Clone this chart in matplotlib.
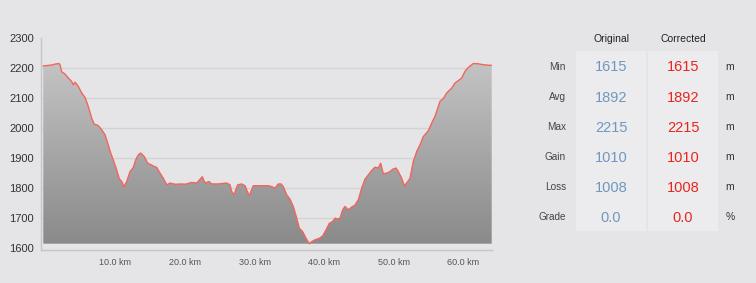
import matplotlib
matplotlib.use("Agg")
import matplotlib.pyplot as plt
import numpy as np
from matplotlib.patches import Rectangle
from matplotlib.colors import LinearSegmentedColormap
import matplotlib.transforms as mtransforms

plt.rcParams['font.family'] = ['Liberation Sans', 'DejaVu Sans']

# ---- data ----
distance_km = [0.00, 1.21, 1.68, 2.26, 2.40, 2.65, 3.12, 3.59, 4.08, 4.31, 4.56, 5.03, 5.52,
               6.00, 6.47, 6.96, 7.29, 7.91, 8.40, 8.87, 9.34, 9.69, 10.06, 10.55, 10.93,
               11.27, 11.60, 11.99, 12.46, 12.94, 13.28, 13.66, 14.00, 14.52, 15.01, 15.48,
               15.96, 16.30, 16.78, 17.25, 17.74, 18.21, 18.93, 19.90, 20.37, 21.33, 22.05,
               22.86, 23.25, 23.82, 24.21, 25.16, 26.37, 26.84, 27.08, 27.42, 27.66, 27.95,
               28.52, 29.00, 29.33, 29.61, 29.86, 30.19, 30.91, 31.63, 32.35, 32.84, 33.31,
               33.78, 34.17, 34.50, 34.99, 35.47, 35.94, 36.43, 36.80, 37.29, 37.77, 38.24,
               38.59, 39.06, 39.68, 40.17, 40.64, 41.12, 41.60, 41.94, 42.27, 42.65, 43.04,
               43.37, 43.85, 44.34, 44.81, 45.28, 45.77, 46.25, 46.72, 47.21, 47.69, 48.16,
               48.50, 48.88, 49.37, 49.84, 50.23, 50.70, 51.03, 51.52, 51.90, 52.24, 52.72,
               53.19, 53.68, 54.15, 54.63, 55.35, 55.84, 56.31, 57.03, 57.50, 57.99, 58.71,
               59.18, 59.66, 60.15, 60.62, 61.10, 61.82, 62.54, 63.26, 64.22, 64.46]
elevation_m = [2207, 2210, 2213, 2215, 2211, 2187, 2180, 2167, 2155, 2144, 2153, 2139, 2117,
               2102, 2072, 2033, 2014, 2008, 1994, 1978, 1944, 1917, 1894, 1861, 1831,
               1822, 1805, 1822, 1855, 1869, 1894, 1911, 1917, 1905, 1883, 1878,
               1872, 1869, 1850, 1833, 1811, 1817, 1813, 1814, 1813, 1819, 1817,
               1838, 1817, 1822, 1814, 1814, 1817, 1811, 1789, 1778, 1794, 1811,
               1814, 1808, 1789, 1775, 1789, 1808, 1808, 1808, 1808, 1805, 1800,
               1814, 1814, 1805, 1778, 1763, 1739, 1700, 1667, 1655, 1633, 1615,
               1622, 1628, 1633, 1641, 1661, 1683, 1689, 1700, 1697, 1700, 1728,
               1739, 1728, 1737, 1744, 1761, 1800, 1830, 1844, 1859, 1870, 1867,
               1883, 1848, 1850, 1855, 1863, 1867, 1855, 1833, 1808, 1817, 1833,
               1889, 1922, 1944, 1972, 1991, 2017, 2039, 2089, 2098, 2117, 2133,
               2150, 2158, 2167, 2189, 2202, 2215, 2214, 2211, 2209, 2209]

y_ticks = [1600, 1700, 1800, 1900, 2000, 2100, 2200, 2300]
x_ticks = [10, 20, 30, 40, 50, 60]
x_tick_labels = ["10.0 km", "20.0 km", "30.0 km", "40.0 km", "50.0 km", "60.0 km"]

stat_names = ["Min", "Avg", "Max", "Gain", "Loss", "Grade"]
original_vals = ["1615", "1892", "2215", "1010", "1008", "0.0"]
corrected_vals = ["1615", "1892", "2215", "1010", "1008", "0.0"]
units = ["m", "m", "m", "m", "m", "%"]
headers = ["Original", "Corrected"]

# ---- figure ----
W, H = 756, 283
fig = plt.figure(figsize=(W / 100, H / 100), dpi=100, facecolor='#e5e5e7')

def fx(px):
    return px / W

def fy(py):
    return 1 - py / H

ax_l, ax_r, ax_t, ax_b = 41, 491.7, 38, 250
ax = fig.add_axes([fx(ax_l), fy(ax_b), fx(ax_r - ax_l), (ax_b - ax_t) / H])
ax.set_facecolor('none')

xmin, xmax = -0.33, max(distance_km)
ymin, ymax = 1594, 2300
ax.set_xlim(xmin, xmax)
ax.set_ylim(ymin, ymax)

base = min(elevation_m)
poly = ax.fill_between(distance_km, elevation_m, base, color='none', lw=0)
cmap = LinearSegmentedColormap.from_list('g', ['#8a8a8a', '#cbcbcb'])
grad = np.linspace(0, 1, 256).reshape(-1, 1)
im = ax.imshow(grad, cmap=cmap, origin='lower', aspect='auto',
               extent=[xmin, xmax, base, ymax], zorder=2)
path = poly.get_paths()[0]
im.set_clip_path(path, transform=ax.transData)
ax.plot(distance_km, elevation_m, color='#f2655c', lw=1.0, zorder=3)

for yv in y_ticks[1:-1]:
    ax.axhline(yv, color='#d3d3d5', lw=1.0, zorder=1)

for s in ['top', 'right']:
    ax.spines[s].set_visible(False)
for s in ['left', 'bottom']:
    ax.spines[s].set_color('#c6c6c8')
    ax.spines[s].set_linewidth(1.0)

ax.set_yticks(y_ticks)
ax.set_yticklabels([str(v) for v in y_ticks])
ax.set_xticks(x_ticks)
ax.set_xticklabels(x_tick_labels)
ax.tick_params(axis='y', length=0, pad=5, labelsize=8, labelcolor='#333333')
ax.tick_params(axis='x', length=0, pad=6, labelsize=6.5, labelcolor='#555555')
offset = mtransforms.ScaledTranslation(2.6 / 100, 0, fig.dpi_scale_trans)
for lbl in ax.get_xticklabels():
    lbl.set_transform(lbl.get_transform() + offset)

# ---- stats table ----
panels = [(576, 646), (648, 718)]
for (x0, x1) in panels:
    fig.patches.append(Rectangle((fx(x0), fy(231)), fx(x1 - x0), (231 - 51) / H,
                                 transform=fig.transFigure, facecolor='#ececee',
                                 edgecolor='none', zorder=0))

col_centers = [611, 683]
for h, cx in zip(headers, col_centers):
    fig.text(fx(cx), fy(38.5), h, ha='center', va='center', fontsize=7.5, color='#222222')

row_y = [66.5, 97, 127, 157, 187, 217]
for name, ov, cv, u, ry in zip(stat_names, original_vals, corrected_vals, units, row_y):
    fig.text(fx(566), fy(ry), name, ha='right', va='center', fontsize=7.2, color='#444444')
    fig.text(fx(col_centers[0]), fy(ry + 0.5), ov, ha='center', va='center', fontsize=10.5,
             color='#7097bf')
    fig.text(fx(col_centers[1]), fy(ry + 0.5), cv, ha='center', va='center', fontsize=10.5,
             color='#e8251d')
    fig.text(fx(725.5), fy(ry), u, ha='left', va='center', fontsize=7.5, color='#333333')

fig.savefig('out.png', dpi=100, facecolor=fig.get_facecolor())
